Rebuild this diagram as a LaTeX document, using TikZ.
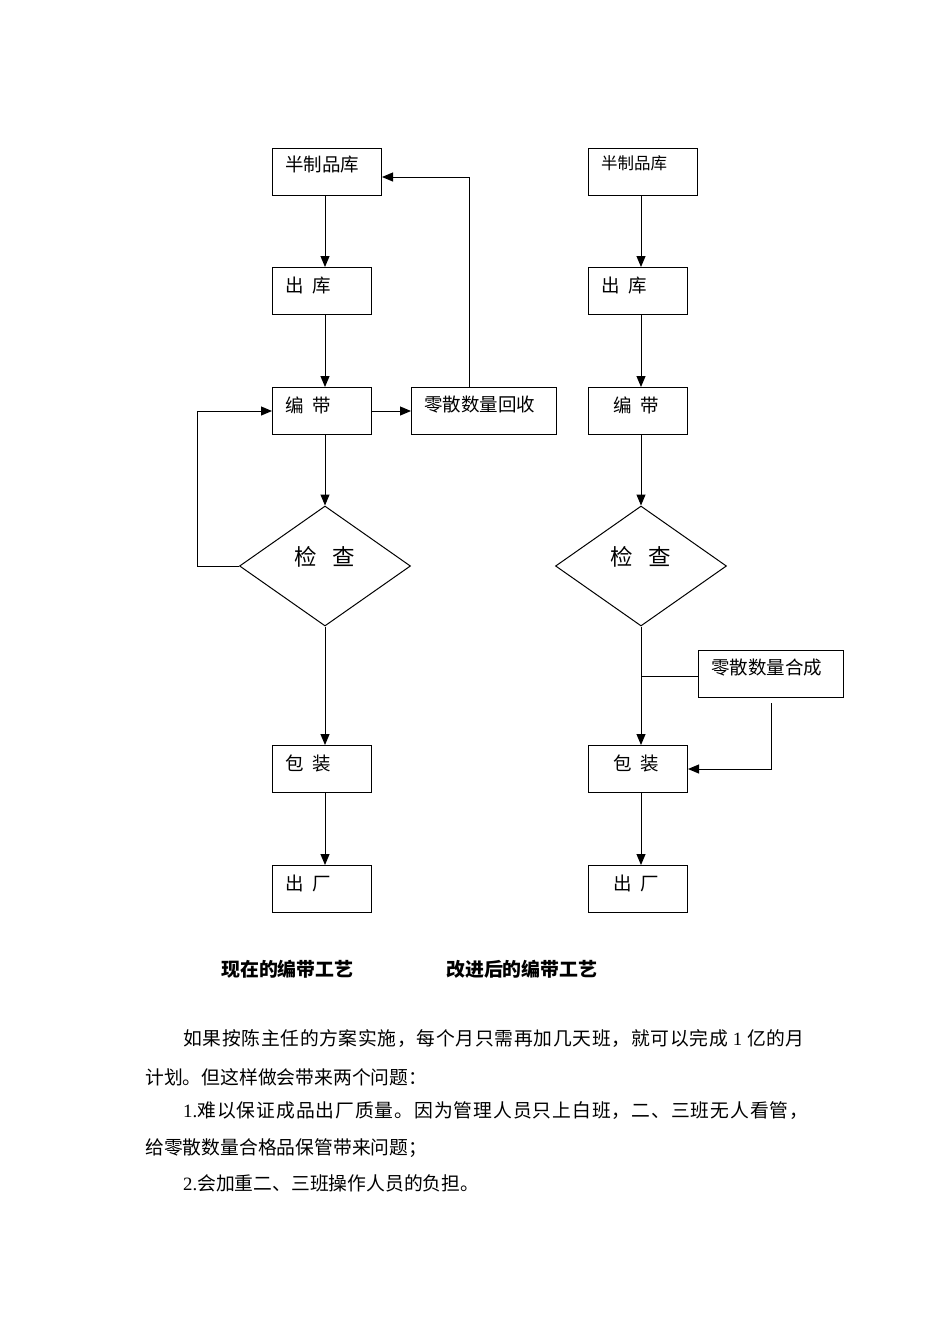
\documentclass[tikz,border=0pt]{standalone}
\usepackage{fontspec}
\setmainfont{Liberation Serif}
\newfontfamily\cjk{Noto Sans CJK SC}
\usetikzlibrary{arrows.meta,shapes.geometric}
\begin{document}
\begin{tikzpicture}[x=1pt,y=-1pt,
  box/.style={draw,line width=1pt,inner sep=0pt,anchor=north west,minimum height=47pt},
  wbox/.style={box,minimum width=109pt},
  nbox/.style={box,minimum width=99pt},
  lbox/.style={box,minimum width=145pt},
  dia/.style={draw,line width=1pt,diamond,inner sep=0pt,minimum width=171pt,minimum height=120pt,aspect=1.425},
  lbl/.style={anchor=west,inner sep=0pt,font=\cjk\fontsize{18.5}{20}\selectfont},
  slbl/.style={anchor=west,inner sep=0pt,font=\cjk\fontsize{16.5}{18}\selectfont},
  dlbl/.style={inner sep=0pt,font=\cjk\fontsize{22.5}{24}\selectfont},
  captxt/.style={anchor=west,inner sep=0pt,font=\cjk\bfseries\fontsize{18.9}{20}\selectfont},
  para/.style={anchor=west,inner sep=0pt,font=\cjk\fontsize{18.8}{20}\selectfont},
  conn/.style={line width=1pt},
  arr/.style={conn,-{Triangle[width=9pt,length=11pt]}}]
\useasboundingbox (0,0) rectangle (950,1344);
% ---------- left flow ----------
\node[wbox] (a1) at (272,148) {};
\node[nbox] (a2) at (272,267) {};
\node[nbox] (a3) at (272,387) {};
\node[lbox] (r1) at (411,387) {};
\node[dia] (d1) at (325,566) {};
\node[nbox] (a5) at (272,745) {};
\node[nbox] (a6) at (272,865) {};
\node[lbl] (ta1) at (285,165) {半制品库};
\node[lbl] (ta2) at (285,286) {出\hspace{0.5em}库};
\node[lbl] (ta3) at (285,405) {编\hspace{0.5em}带};
\node[lbl] (tr1) at (424,405) {零散数量回收};
\node[dlbl] (td1) at (325,557) {检\hspace{0.7em}查};
\node[lbl] (ta5) at (285,763) {包\hspace{0.5em}装};
\node[lbl] (ta6) at (285,883) {出\hspace{0.5em}厂};
\draw[arr] (a1.south -| d1.north) -- (a2.north -| d1.north);
\draw[arr] (a2.south -| d1.north) -- (a3.north -| d1.north);
\draw[arr] (a3.south -| d1.north) -- (d1.north);
\draw[arr] (d1.south) -- (a5.north -| d1.south);
\draw[arr] (a5.south -| d1.south) -- (a6.north -| d1.south);
\coordinate (fb) at (197,566);
\draw[arr] (d1.west) -- (fb) |- (a3.west);
\draw[arr] (a3.east) -- (r1.west);
\coordinate (up) at (469,177);
\draw[arr] (r1.north -| up) -- (up) -- (a1.east |- up);
% ---------- right flow ----------
\node[wbox] (b1) at (588,148) {};
\node[nbox] (b2) at (588,267) {};
\node[nbox] (b3) at (588,387) {};
\node[dia] (d2) at (641,566) {};
\node[lbox] (m1) at (698,650) {};
\node[nbox] (b5) at (588,745) {};
\node[nbox] (b6) at (588,865) {};
\node[slbl] (tb1) at (601,163) {半制品库};
\node[lbl] (tb2) at (601,286) {出\hspace{0.5em}库};
\node[lbl] (tb3) at (613,405) {编\hspace{0.5em}带};
\node[dlbl] (td2) at (641,557) {检\hspace{0.7em}查};
\node[lbl] (tm1) at (711,668) {零散数量合成};
\node[lbl] (tb5) at (613,763) {包\hspace{0.5em}装};
\node[lbl] (tb6) at (613,883) {出\hspace{0.5em}厂};
\draw[arr] (b1.south -| d2.north) -- (b2.north -| d2.north);
\draw[arr] (b2.south -| d2.north) -- (b3.north -| d2.north);
\draw[arr] (b3.south -| d2.north) -- (d2.north);
\draw[arr] (d2.south) -- (b5.north -| d2.south);
\draw[arr] (b5.south -| d2.south) -- (b6.north -| d2.south);
\coordinate (jn) at (641,676);
\draw[conn] (jn) -- (m1.west |- jn);
\coordinate (dn) at (771,703);
\draw[arr] (dn) |- (b5.east);
% ---------- captions ----------
\node[captxt] (c1) at (221,969) {现在的编带工艺};
\node[captxt] (c2) at (446,969) {改进后的编带工艺};
% ---------- paragraph ----------
\node[para] (p1) at (183,1039) {\addfontfeatures{LetterSpace=3.6}如果按陈主任的方案实施，每个月只需再加几天班，就可以完成 {\rmfamily 1} 亿的月};
\node[para] (p2) at (145,1077) {计划。但这样做会带来两个问题：};
\node[para] (p3) at (183,1111) {{\rmfamily 1.}\addfontfeatures{LetterSpace=5}难以保证成品出厂质量。因为管理人员只上白班，二、三班无人看管，};
\node[para] (p4) at (145,1148) {给零散数量合格品保管带来问题；};
\node[para] (p5) at (183,1183) {{\rmfamily 2.}会加重二、三班操作人员的负担。};
\end{tikzpicture}
\end{document}
